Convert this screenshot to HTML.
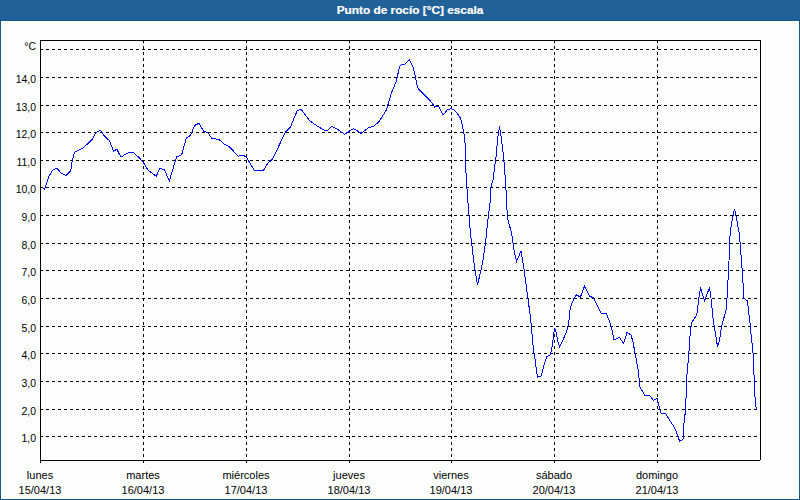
<!DOCTYPE html>
<html><head><meta charset="utf-8"><style>
html,body{margin:0;padding:0;}
body{width:800px;height:500px;position:relative;overflow:hidden;background:#fcfefc;font-family:"Liberation Sans",sans-serif;}
#hdr{position:absolute;left:0;top:0;width:800px;height:20px;background:#1f6194;border-bottom:1px solid #15578f;}
#bl{position:absolute;left:0;top:20px;width:1px;height:480px;background:#15578f;}
#br{position:absolute;left:799px;top:20px;width:1px;height:480px;background:#15578f;}
#bb{position:absolute;left:0;top:499px;width:800px;height:1px;background:#15578f;}
#title{position:absolute;left:310px;top:3px;width:200px;text-align:center;color:#fff;font-weight:bold;font-size:11px;line-height:14px;white-space:nowrap;transform:scaleX(1.075);transform-origin:100px 0;-webkit-text-stroke:0.2px #fff;}
.yl{position:absolute;left:0;width:37px;text-align:right;font-size:11px;line-height:14px;color:#000;white-space:nowrap;transform:scaleX(0.95);transform-origin:100% 0;}
.xl{position:absolute;width:80px;text-align:center;font-size:11px;line-height:14px;color:#000;white-space:nowrap;}
svg{position:absolute;left:0;top:0;}
</style></head><body>
<div id="hdr"><svg width="800" height="20" style="position:absolute;left:0;top:0" shape-rendering="crispEdges"><defs><pattern id="dp" width="24" height="15" patternUnits="userSpaceOnUse"><g fill="#2862ad"><rect x="16" y="0" width="1" height="1"/><rect x="5" y="1" width="1" height="1"/><rect x="12" y="1" width="1" height="1"/><rect x="20" y="1" width="1" height="1"/><rect x="2" y="2" width="1" height="1"/><rect x="7" y="2" width="1" height="1"/><rect x="10" y="2" width="1" height="1"/><rect x="15" y="2" width="1" height="1"/><rect x="18" y="2" width="1" height="1"/><rect x="23" y="2" width="1" height="1"/><rect x="4" y="4" width="1" height="1"/><rect x="11" y="4" width="1" height="1"/><rect x="19" y="4" width="1" height="1"/><rect x="2" y="5" width="1" height="1"/><rect x="8" y="5" width="1" height="1"/><rect x="13" y="5" width="1" height="1"/><rect x="16" y="5" width="1" height="1"/><rect x="21" y="5" width="1" height="1"/><rect x="6" y="6" width="1" height="1"/><rect x="11" y="7" width="1" height="1"/><rect x="19" y="7" width="1" height="1"/><rect x="1" y="8" width="1" height="1"/><rect x="4" y="8" width="1" height="1"/><rect x="7" y="8" width="1" height="1"/><rect x="15" y="8" width="1" height="1"/><rect x="23" y="8" width="1" height="1"/><rect x="9" y="9" width="1" height="1"/><rect x="13" y="9" width="1" height="1"/><rect x="17" y="9" width="1" height="1"/><rect x="21" y="9" width="1" height="1"/><rect x="2" y="11" width="1" height="1"/><rect x="5" y="11" width="1" height="1"/><rect x="8" y="11" width="1" height="1"/><rect x="12" y="11" width="1" height="1"/><rect x="16" y="11" width="1" height="1"/><rect x="20" y="11" width="1" height="1"/><rect x="3" y="13" width="1" height="1"/><rect x="10" y="13" width="1" height="1"/><rect x="14" y="13" width="1" height="1"/><rect x="18" y="13" width="1" height="1"/><rect x="22" y="13" width="1" height="1"/><rect x="7" y="14" width="1" height="1"/></g></pattern></defs><rect width="800" height="20" fill="url(#dp)"/></svg></div><div id="bl"></div><div id="br"></div><div id="bb"></div>
<div id="title">Punto de rocío [°C] escala</div>
<svg width="800" height="500" viewBox="0 0 800 500" shape-rendering="crispEdges">
<line x1="40" y1="49.5" x2="760" y2="49.5" stroke="#000" stroke-dasharray="3 3"/>
<line x1="40" y1="77.5" x2="760" y2="77.5" stroke="#000" stroke-dasharray="3 3"/>
<line x1="40" y1="105.5" x2="760" y2="105.5" stroke="#000" stroke-dasharray="3 3"/>
<line x1="40" y1="132.5" x2="760" y2="132.5" stroke="#000" stroke-dasharray="3 3"/>
<line x1="40" y1="160.5" x2="760" y2="160.5" stroke="#000" stroke-dasharray="3 3"/>
<line x1="40" y1="187.5" x2="760" y2="187.5" stroke="#000" stroke-dasharray="3 3"/>
<line x1="40" y1="215.5" x2="760" y2="215.5" stroke="#000" stroke-dasharray="3 3"/>
<line x1="40" y1="243.5" x2="760" y2="243.5" stroke="#000" stroke-dasharray="3 3"/>
<line x1="40" y1="270.5" x2="760" y2="270.5" stroke="#000" stroke-dasharray="3 3"/>
<line x1="40" y1="298.5" x2="760" y2="298.5" stroke="#000" stroke-dasharray="3 3"/>
<line x1="40" y1="326.5" x2="760" y2="326.5" stroke="#000" stroke-dasharray="3 3"/>
<line x1="40" y1="353.5" x2="760" y2="353.5" stroke="#000" stroke-dasharray="3 3"/>
<line x1="40" y1="381.5" x2="760" y2="381.5" stroke="#000" stroke-dasharray="3 3"/>
<line x1="40" y1="409.5" x2="760" y2="409.5" stroke="#000" stroke-dasharray="3 3"/>
<line x1="40" y1="436.5" x2="760" y2="436.5" stroke="#000" stroke-dasharray="3 3"/>
<line x1="143.5" y1="40" x2="143.5" y2="460" stroke="#000" stroke-dasharray="3 3"/>
<line x1="246.5" y1="40" x2="246.5" y2="460" stroke="#000" stroke-dasharray="3 3"/>
<line x1="349.5" y1="40" x2="349.5" y2="460" stroke="#000" stroke-dasharray="3 3"/>
<line x1="451.5" y1="40" x2="451.5" y2="460" stroke="#000" stroke-dasharray="3 3"/>
<line x1="554.5" y1="40" x2="554.5" y2="460" stroke="#000" stroke-dasharray="3 3"/>
<line x1="657.5" y1="40" x2="657.5" y2="460" stroke="#000" stroke-dasharray="3 3"/>
<path d="M40.5 40.5H760.5V459.5M40.5 40V463M40 460.5H760" stroke="#000" fill="none"/>
<line x1="143.5" y1="460" x2="143.5" y2="463" stroke="#000"/>
<line x1="246.5" y1="460" x2="246.5" y2="463" stroke="#000"/>
<line x1="349.5" y1="460" x2="349.5" y2="463" stroke="#000"/>
<line x1="451.5" y1="460" x2="451.5" y2="463" stroke="#000"/>
<line x1="554.5" y1="460" x2="554.5" y2="463" stroke="#000"/>
<line x1="657.5" y1="460" x2="657.5" y2="463" stroke="#000"/>
<polyline points="43.2,188 44.5,189.3 46.7,183 49.3,175.5 52.7,170.2 56.8,168.3 61,172.8 65.8,175.5 70.7,171 72.2,160.5 74.5,152.2 79,150 83.5,147.7 92.4,139.1 93.5,136.7 95.6,133.2 97.8,131.5 99.9,130.4 101.6,131.5 103.5,134.9 106.8,138.4 109.3,140.2 113.5,151.2 116.8,149.2 121,157.2 125.5,154.2 130,152 133.7,153 139,157.5 143.5,162.7 148,170.2 156.2,176.2 160,168.2 164.5,169.7 169.3,181 172.7,169.7 176.5,157 181.7,154.7 186.2,138.2 190.7,135.2 194.5,125.5 199,123.2 203.5,131.2 208,132.7 211.7,138.2 219.2,139.7 224.5,144.2 229.7,147 238,156.2 242.5,155.2 246.2,156.7 254.5,170.5 263.5,170.5 268,163 272.5,159.2 280,143.5 285.2,132.2 290.5,127 297.2,110.5 301,109.3 310,121 316,125.2 324.2,130.3 328,130 331.7,126.2 336.2,128.5 344.5,134.2 353.5,128.5 361,133.3 368.5,127.7 373.7,126.2 379,121.7 386.5,109.8 391.2,93.5 396.5,80.7 399.5,66.5 401,65 404.7,64.2 409.2,59.7 413,67.2 415.2,75.5 417.5,87.5 420.5,91.2 431,101.7 434.7,107 438.5,106.2 443,115.2 447.5,109.7 451.2,108.5 454,110 457,113 460,117.5 461.5,121.5 462.5,126.5 464.5,136 465.5,150 465.5,164 466.5,181 467.5,197 469,215 470,228 471,238 472.5,250 473.5,259 475,270 477.5,285 481,270 483,260 484.5,250 486.5,234 487.5,223 489,211 490.5,200 491,187 493,180 494.5,167.5 496,157.5 497.5,140 499.5,126.2 501.5,139.5 503.5,156.5 504.5,168 505.5,182 506.5,197 507,210 508,220 511.5,233 514,250 516.5,261.5 521,251 524,269 527,292 529.5,310 531,323 532.5,340 533.5,350 535,359 536,367 537.5,377 541,376.5 544,365 546.5,357 550,355 551.5,351 553,340 554.5,328 556,332 557.5,340 559.5,347 563,340 567.5,329 569,320 570,310 571.5,304 574.5,297.5 576.5,295 580.5,297 584.5,286.2 589.5,296 593.5,298 601,313 606.5,313.5 611.5,327 614,340 619.5,337.5 623.5,343.5 627,332.5 631,335 633,342 635,353 638,369 640,387 644.5,395 649.5,395 653.5,400.5 657,398.5 660,410 661.5,414 665.5,413.5 669.5,420 673.5,426 675.5,430 677.5,435 679.5,441 683,439.5 683.5,431 684.5,415 685.5,414 686,398 686.5,382 687.5,367 688.5,360 689.5,343 690.5,329 692,322 696,316 697.5,311 698,305 699,297 700.5,287.5 704.5,301 709.5,287.5 711.5,302 712.5,314 714.5,328 717.5,346.5 719.5,340 721.5,327 726,310 727,298 728,280 729,261 729.5,243 730.5,230 731.5,224 732.5,218 734.5,209 736.5,218 737.5,224 739.5,234 740.5,250 741.5,260 742.5,275 743.5,291 743.5,298 747.5,301 749,315 750.5,327 751.5,340 752.5,346 753.5,360 754,375 754.5,389 755.5,404 756.5,410" fill="none" stroke="#0000ff" stroke-width="1"/>
</svg>
<div class="yl" style="top:39px;width:36px">°C</div>
<div class="yl" style="top:72px;width:36px">14,0</div>
<div class="yl" style="top:100px;width:36px">13,0</div>
<div class="yl" style="top:127px;width:36px">12,0</div>
<div class="yl" style="top:155px;width:36px">11,0</div>
<div class="yl" style="top:182px;width:36px">10,0</div>
<div class="yl" style="top:210px;width:36px">9,0</div>
<div class="yl" style="top:238px;width:36px">8,0</div>
<div class="yl" style="top:265px;width:36px">7,0</div>
<div class="yl" style="top:293px;width:36px">6,0</div>
<div class="yl" style="top:321px;width:36px">5,0</div>
<div class="yl" style="top:348px;width:36px">4,0</div>
<div class="yl" style="top:376px;width:36px">3,0</div>
<div class="yl" style="top:404px;width:36px">2,0</div>
<div class="yl" style="top:431px;width:36px">1,0</div>
<div class="xl" style="left:0px;top:468px">lunes</div>
<div class="xl" style="left:0px;top:483px">15/04/13</div>
<div class="xl" style="left:103px;top:468px">martes</div>
<div class="xl" style="left:103px;top:483px">16/04/13</div>
<div class="xl" style="left:206px;top:468px">miércoles</div>
<div class="xl" style="left:206px;top:483px">17/04/13</div>
<div class="xl" style="left:309px;top:468px">jueves</div>
<div class="xl" style="left:309px;top:483px">18/04/13</div>
<div class="xl" style="left:411px;top:468px">viernes</div>
<div class="xl" style="left:411px;top:483px">19/04/13</div>
<div class="xl" style="left:514px;top:468px">sábado</div>
<div class="xl" style="left:514px;top:483px">20/04/13</div>
<div class="xl" style="left:617px;top:468px">domingo</div>
<div class="xl" style="left:617px;top:483px">21/04/13</div>
</body></html>
